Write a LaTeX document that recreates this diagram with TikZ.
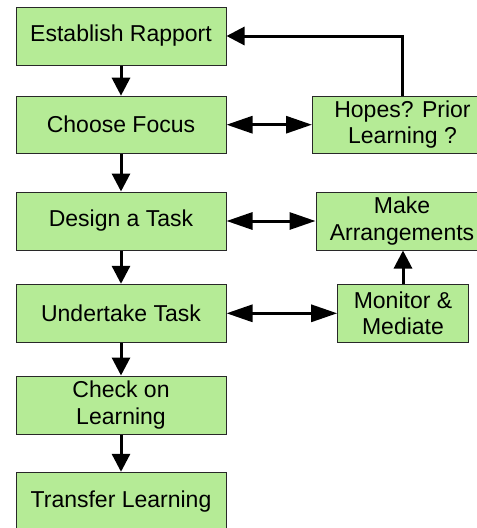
\documentclass[tikz,border=0pt]{standalone}
\usepackage{fontspec}
\setmainfont{Liberation Sans}
\usetikzlibrary{arrows.meta}
\definecolor{boxfill}{RGB}{181,235,150}
\definecolor{boxline}{RGB}{40,40,40}
\begin{document}
\begin{tikzpicture}[x=1pt,y=-1pt,
  box/.style={draw=boxline,line width=1pt,fill=boxfill,inner sep=0pt,
    align=center,font=\fontsize{23}{26.5}\selectfont},
  conn/.style={line width=3pt,-{Triangle[length=18pt,width=18pt]}},
  dconn/.style={line width=3pt,{Triangle[length=26pt,width=17pt]}-{Triangle[length=26pt,width=17pt]}}]
\clip (0,0) rectangle (477,528);
\fill[white] (0,0) rectangle (477,528);
\node[box,minimum width=210pt,minimum height=58pt] (b1) at (121,36) {Establish Rapport};
\node[box,minimum width=210pt,minimum height=57pt] (b2) at (121,124.7) {Choose Focus};
\node[box,minimum width=210pt,minimum height=58pt] (b3) at (121,221) {Design a Task};
\node[box,minimum width=210pt,minimum height=58pt] (b4) at (121,313.3) {Undertake Task};
\node[box,minimum width=210pt,minimum height=58pt] (b5) at (121,405) {Check on\\Learning};
\node[box,minimum width=210pt,minimum height=58pt] (b6) at (121,501.3) {Transfer Learning};
\node[box,minimum width=180pt,minimum height=57pt] (hopes) at (402.5,124.7) {Hopes? Prior\\Learning ?};
\node[box,minimum width=172pt,minimum height=58pt] (make) at (402,221) {Make\\Arrangements};
\node[box,minimum width=130.6pt,minimum height=58pt] (mon) at (403,313.3) {Monitor \&\\Mediate};
\draw[conn] (b1) -- (b2);
\draw[conn] (b2) -- (b3);
\draw[conn] (b3) -- (b4);
\draw[conn] (b4) -- (b5);
\draw[conn] (b5) -- (b6);
\draw[conn] (hopes.north) |- (b1.east);
\draw[dconn] (b2.east) -- (hopes.west);
\draw[dconn] (b3.east) -- (make.west);
\draw[dconn] (b4.east) -- (mon.west);
\draw[conn] (mon.north) -- (mon.north |- make.south);
\end{tikzpicture}
\end{document}
